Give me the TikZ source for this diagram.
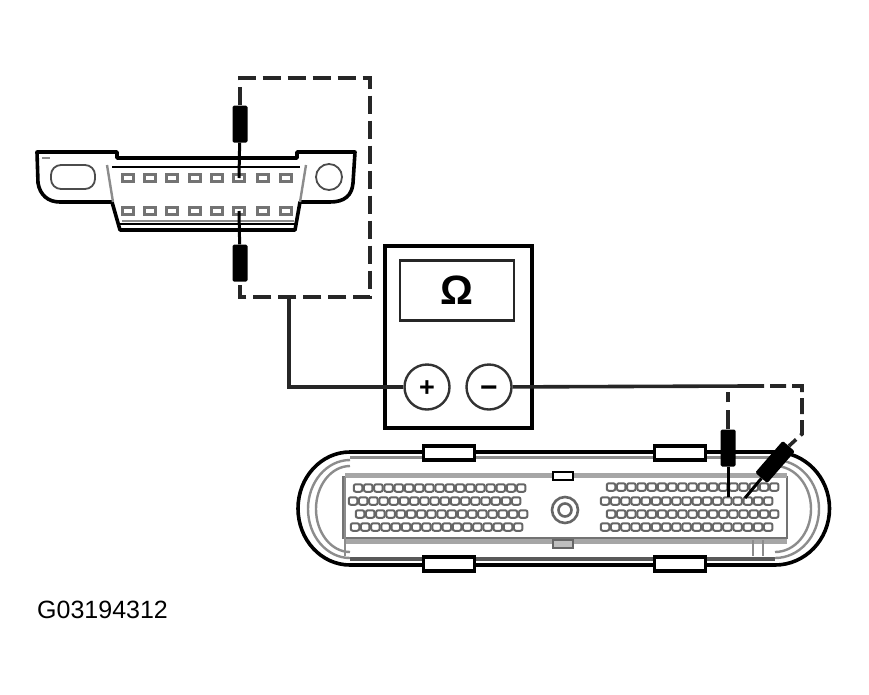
\documentclass[tikz,border=0pt]{standalone}
\usepackage{amsmath}
\usepackage{fontspec}
\setmainfont{Liberation Sans}
\usetikzlibrary{positioning}

\begin{document}
\begin{tikzpicture}[
		x=1pt,y=-1pt,
		wire/.style={
		  line width=3.6pt,
		  draw=black!85
		  },
		dashwire/.style={
		  wire,
		  dash pattern=on 18pt off 7pt
		  },
		probe/.style={
		  draw=none,
		  fill=black,
		  rounded corners=1.5pt,
		  inner sep=0pt,
		  minimum width=15pt,
		  minimum height=37pt
		  },
		pin/.style={
		  line width=3pt,
		  draw=black
		  },
		shell/.style={
		  line width=3.6pt,
		  draw=black,
		  line join=round
		  },
		band/.style={
		  line width=2.4pt,
		  draw=black!45
		  },
		socket/.style={
		  draw=black!55,
		  fill=white,
		  line width=2.6pt,
		  inner sep=0pt,
		  minimum width=11pt,
		  minimum height=7pt
		  },
		hole/.style={
		  draw=black!60,
		  fill=white,
		  line width=2pt,
		  rounded corners=2pt,
		  inner sep=0pt,
		  minimum width=8.5pt,
		  minimum height=7.5pt
		  },
		tab/.style={
		  draw=black,
		  fill=white,
		  line width=3.2pt,
		  inner sep=0pt,
		  minimum width=51pt,
		  minimum height=14pt
		  },
		port/.style={
		  draw=black!80,
		  circle,
		  line width=2.4pt,
		  inner sep=0pt,
		  minimum size=45pt,
		  font=\bfseries
		  }
		]
		\useasboundingbox (0,0) rectangle (869,694);
		% meter
		\node[draw,line width=3.2pt,minimum width=147pt,minimum height=182pt,inner sep=0pt] (meter) at (458.5,337) {};
		\node[draw=black!85,line width=2.6pt,minimum width=114pt,minimum height=60pt,inner sep=0pt,font=\fontsize{41}{41}\selectfont\bfseries] (display) at (457,290.5) {Ω};
		\node[port] (plus) at (427,387) {\fontsize{27}{27}\selectfont\raisebox{-9pt}[0pt][0pt]{+}};
		\node[port] (minus) at (489,387) {\fontsize{30}{30}\selectfont\raisebox{-10pt}[0pt][0pt]{−}};
		% obd connector
		\draw[shell,fill=white] (117,152) -- (37,152) -- (38,183) .. controls (40,195) and (48,202) .. (60,202) -- (112,202)
		  -- (120,230) -- (295,230) -- (300,202) -- (330,202) .. controls (345,202) and (352,195) .. (353,183) -- (355,152) -- (297,152) -- (297,158) -- (117,158) -- cycle;
		\draw[band] (42,158) -- (50,158);
		\draw[band] (107,165) -- (113,202);
		\draw[band] (306,165) -- (300,202);
		\draw[band] (122,221) -- (294,221);
		\draw[line width=2pt] (112,167) -- (300,167);
		\draw[line width=2pt] (120,224) -- (295,224);
		\node[draw=black!70,line width=1.8pt,rounded corners=10pt,minimum width=44pt,minimum height=24pt,inner sep=0pt] (earhole) at (73,177) {};
		\node[draw=black!70,line width=1.8pt,circle,minimum size=26pt,inner sep=0pt] (earcircle) at (329,177) {};
		\foreach \ax [count=\mi] in {128,150,172,195,217,239,263,286}
		{
		  \node[socket] (upper-\mi) at (\ax,178) {};
		  \node[socket] (lower-\mi) at (\ax,211) {};
		}
		% ecm connector
		\draw[shell,fill=white] (350,452) -- (775,452) arc (-90:90:54.5 and 56.5) -- (350,565) arc (90:270:52 and 56.5) -- cycle;
		\draw[band,line width=3pt] (350,457) -- (775,457);
		\draw[line width=4.5pt,draw=black!65] (350,559) -- (775,559);
		\draw[band] (350,460) arc (-90:-270:42 and 49);
		\draw[band] (350,466) arc (-90:-270:34 and 43);
		\draw[band] (775,460) arc (-90:90:44 and 49);
		\draw[band] (775,466) arc (-90:90:36 and 43);
		\draw[line width=2pt,draw=black!55,fill=white] (343,477) -- (787,477) -- (787,538) -- (343,538) -- cycle;
		\draw[line width=5pt,draw=black!35] (345,475) -- (787,475);
		\draw[line width=5pt,draw=black!35] (345,541) -- (787,541);
		\draw[band] (345,477) -- (345,556);
		\draw[band] (753,540) -- (753,556);
		\draw[band] (763,540) -- (763,556);
		\node[tab] (tabtl) at (449,453) {};
		\node[tab] (tabtr) at (680,453) {};
		\node[tab] (tabbl) at (449,564) {};
		\node[tab] (tabbr) at (680,564) {};
		\node[draw,line width=2pt,fill=white,minimum width=20pt,minimum height=8pt,inner sep=0pt] (marktop) at (563,476) {};
		\node[draw=black!60,line width=2pt,fill=black!25,minimum width=20pt,minimum height=8pt,inner sep=0pt] (markbottom) at (563,544) {};
		\node[draw=black!60,line width=2.6pt,circle,minimum size=26pt,inner sep=0pt] (bolt) at (565,510) {};
		\node[draw=black!60,line width=2.6pt,circle,minimum size=13pt,inner sep=0pt] (boltin) at (565,510) {};
		\foreach \ay/\ax in {488/358,501/353,514/360,527/355}
		  \foreach \ai in {0,...,16}
		    \node[hole] (l-\ay-\ai) at ({\ax+\ai*10.2},\ay) {};
		\foreach \ay/\ax in {487/611,501/605,514/611,527/605}
		  \foreach \ai in {0,...,16}
		    \node[hole] (r-\ay-\ai) at ({\ax+\ai*10.2},\ay) {};
		% probes
		\node[probe] (probea) at (240,124) {};
		\node[probe] (probeb) at (240,263) {};
		\node[probe] (probec) at (728,448) {};
		\node[probe,minimum width=42pt,minimum height=16pt,rotate=49] (probed) at (775,462) {};
		\draw[pin] (probea) -- (upper-6.center);
		\draw[pin] (probeb) -- (lower-6.center);
		\coordinate (pinc) at (728,497);
		\coordinate (pind) at (745,498);
		\draw[pin] (probec) -- (pinc);
		\draw[pin] (probed) -- (pind);
		% wires
		\coordinate (tapa) at (289,297);
		\coordinate (dasha) at (370,78);
		\coordinate (dashb) at (370,297);
		\coordinate (tapb) at (748,386);
		\coordinate (tapc) at (728,386);
		\coordinate (dashc) at (802,386);
		\coordinate (dashd) at (802,434);
		\draw[wire] (plus) -| (tapa);
		\draw[wire] (minus) -- (tapb);
		\draw[dashwire] (probea.north) |- (dasha) -- (dashb) -| (probeb.south);
		\draw[dashwire,dash pattern=on 16pt off 6pt] (tapb) -- (dashc) -- (dashd) -- (probed.east);
		\draw[dashwire,dash pattern=on 19pt off 8pt on 10pt off 20pt] (probec.north) -- (tapc);
		% figure code
		\node[anchor=west,inner sep=0pt,font=\fontsize{25}{25}\selectfont] (code) at (37,610) {G03194312};
	\end{tikzpicture}
\end{document}
